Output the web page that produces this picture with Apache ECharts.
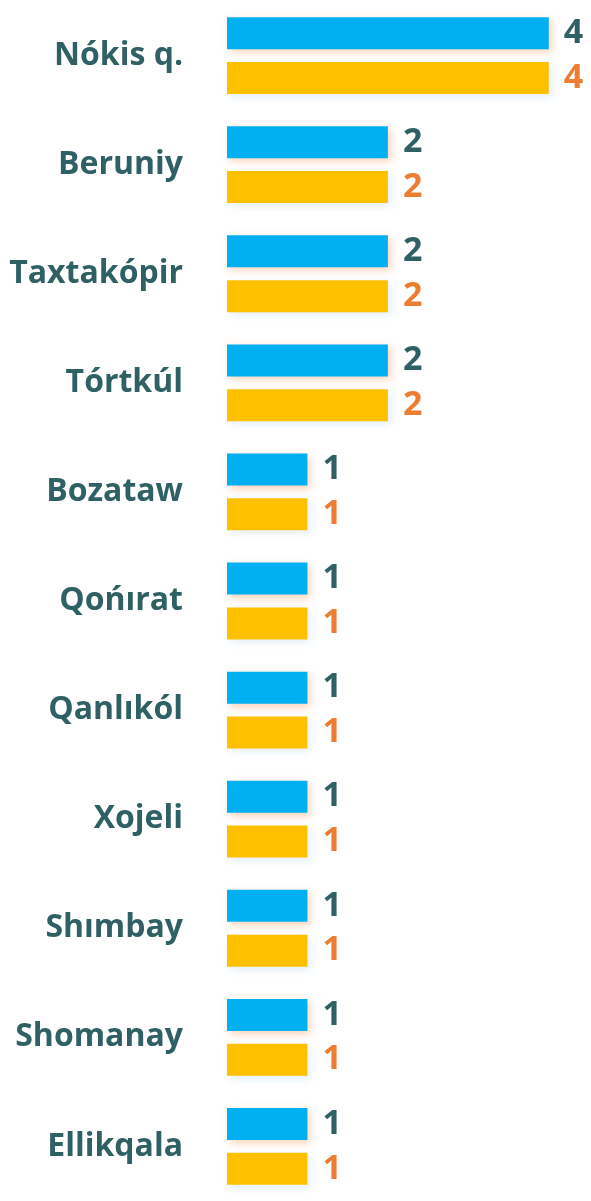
<!DOCTYPE html>
<html>
<head>
<meta charset="utf-8">
<script src="https://cdn.jsdelivr.net/npm/echarts@6/dist/echarts.min.js"></script>
<style>
html, body { margin: 0; padding: 0; background: #fff; }
#chart { width: 591px; height: 1201px; }
</style>
</head>
<body>
<div id="chart"></div>
<script>
var categories = ['Nókis q.', 'Beruniy', 'Taxtakópir', 'Tórtkúl', 'Bozataw', 'Qońırat', 'Qanlıkól', 'Xojeli', 'Shımbay', 'Shomanay', 'Ellikqala'];
var blueValues = [4, 2, 2, 2, 1, 1, 1, 1, 1, 1, 1];
var goldValues = [4, 2, 2, 2, 1, 1, 1, 1, 1, 1, 1];

(function () {
    'use strict';
    var myChart = echarts.init(document.getElementById('chart'));
    var teal = '#2F6064';

    var option = {
        animation: false,
        grid: { left: 227, right: 2, top: 1, bottom: -8, containLabel: false },
        xAxis: {
            type: 'value',
            min: 0,
            max: 4.5,
            show: false
        },
        yAxis: {
            type: 'category',
            inverse: true,
            data: categories,
            axisLine: { show: false },
            axisTick: { show: false },
            splitLine: { show: false },
            axisLabel: {
                margin: 44,
                color: teal,
                fontSize: 32,
                fontWeight: 'bold',
                fontFamily: 'Open Sans',
                padding: [3, 0, 0, 0]
            }
        },
        series: [{
            type: 'bar',
            data: blueValues,
            barWidth: 32,
            barGap: '40%',
            itemStyle: {
                color: '#00B0F0',
                shadowColor: 'rgba(237,125,49,0.35)',
                shadowBlur: 8,
                shadowOffsetX: 3,
                shadowOffsetY: 3
            },
            label: {
                show: true,
                position: 'right',
                distance: 15,
                color: teal,
                fontSize: 34,
                fontWeight: 'bold',
                fontFamily: 'Open Sans'
            }
        }, {
            type: 'bar',
            data: goldValues,
            barWidth: 32,
            itemStyle: {
                color: '#FFC000',
                shadowColor: 'rgba(0,112,192,0.12)',
                shadowBlur: 8,
                shadowOffsetX: 3,
                shadowOffsetY: 3
            },
            label: {
                show: true,
                position: 'right',
                distance: 15,
                color: '#ED7D31',
                fontSize: 34,
                fontWeight: 'bold',
                fontFamily: 'Open Sans'
            }
        }]
    };

    myChart.setOption(option);
    window.addEventListener('resize', function () {
        myChart.resize();
    });
})();
</script>
</body>
</html>
